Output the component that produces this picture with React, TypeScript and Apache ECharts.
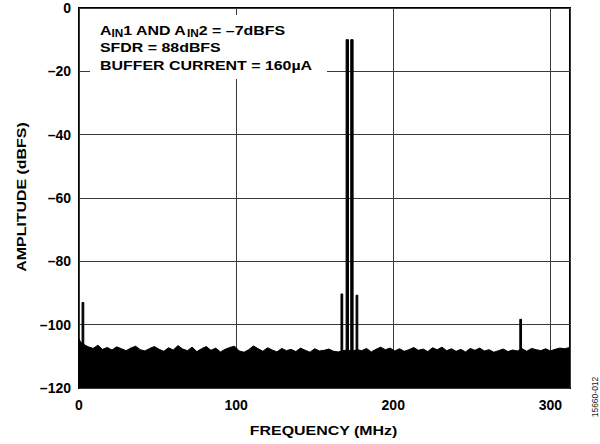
import React, { useEffect, useRef } from 'react';
import * as echarts from 'echarts';

const FONT = "'Liberation Sans', Arial, Helvetica, sans-serif";

// Axis ticks
const xTickValues = [0, 100, 200, 300];
const xTickLabels = ['0', '100', '200', '300'];
const yTickValues = [-120, -100, -80, -60, -40, -20, 0];
const yTickLabels = ['–120', '–100', '–80', '–60', '–40', '–20', '0'];

// Noise floor upper envelope (MHz, dBFS)
const noiseFreqs = [
  0, 1, 4, 6, 9, 12, 15, 18, 21, 24, 27, 30, 33, 36, 39, 42, 45, 48, 51, 54, 57, 60, 63, 66, 69, 72, 75, 78,
  81, 84, 87, 90, 93, 96, 99, 102, 105, 108, 111, 114, 117, 120, 123, 126, 129, 132, 135, 138, 141, 144, 147,
  150, 153, 156, 159, 162, 165, 168, 171, 174, 177, 180, 183, 186, 189, 192, 195, 198, 201, 204, 207, 210,
  213, 216, 219, 222, 225, 228, 231, 234, 237, 240, 243, 246, 249, 252, 255, 258, 261, 264, 267, 270, 273,
  276, 279, 282, 285, 288, 291, 294, 297, 300, 303, 306, 309, 312.5,
];
const noiseLevels = [
  -104.5, -105.5, -106.5, -107, -107.5, -106.5, -107.8, -107.2, -108, -107, -107.6, -108.2, -107.4, -106.8,
  -107.9, -108.3, -107.5, -106.9, -107.8, -108.4, -107.3, -108, -106.6, -107.7, -108.2, -107.1, -108.5,
  -107.6, -106.9, -108.1, -107.4, -108.6, -107.8, -107.2, -106.8, -108.3, -108.7, -107.9, -106.7, -107.6,
  -108.4, -107.3, -108, -108.6, -107.5, -108.2, -107.8, -108.5, -107.4, -108.1, -108.7, -107.6, -108.3,
  -108.1, -107.7, -108.4, -108.6, -108.2, -108, -108.3, -107.9, -108.2, -107.5, -108.6, -107.8, -107.1,
  -107.9, -107.4, -108.3, -107.6, -108.4, -107.9, -107.2, -108.1, -107.7, -108.5, -107.3, -107.9, -107.1,
  -108.2, -107.6, -108.4, -107.8, -108.6, -107.5, -108.1, -107.4, -108.3, -107.9, -108.7, -108.2, -107.7,
  -108.5, -108, -108.3, -107.6, -108.4, -107.5, -107.9, -108.2, -107.6, -108.3, -107.8, -107.4, -107.6,
  -107.2,
];

// Spurs and tones (MHz, dBFS peak)
const spikeFreqs = [2.5, 167.3, 170.75, 173.7, 176.9, 281.1];
const spikePeaks = [-93, -90.3, -10, -10, -90.7, -98.3];

// Annotation
const annotationLine1 = '{m|A}{s|IN}{m|1 AND A}{s|IN}{m|2 = –7dBFS}';
const annotationLine2 = 'SFDR = 88dBFS';
const annotationLine3 = 'BUFFER CURRENT = 160µA';
const xAxisTitle = 'FREQUENCY (MHz)';
const yAxisTitle = 'AMPLITUDE (dBFS)';
const figureId = '15660-012';

const SX = 1.18;

function buildOption() {
  const noiseData = noiseFreqs.map((f, i) => [f, noiseLevels[i]]);
  const spikeData: number[][] = [];
  const base = -113;
  spikeFreqs.forEach((f, i) => {
    const h = spikePeaks[i] > -50 ? 0.75 : 0.55;
    spikeData.push([f - h, base], [f - h, spikePeaks[i]], [f + h, spikePeaks[i]], [f + h, base]);
  });

  const textBase = { fontFamily: FONT, fontWeight: 'bold', fill: '#000' } as any;

  return {
    animation: false,
    backgroundColor: '#fff',
    grid: {
      left: 79,
      right: 30,
      top: 8,
      bottom: 56,
      show: true,
      borderColor: '#000',
      borderWidth: 2,
      backgroundColor: 'transparent',
    },
    xAxis: {
      type: 'value',
      min: 0,
      max: 312.5,
      interval: 100,
      axisLine: { show: false },
      axisTick: { show: false },
      splitLine: { show: true, lineStyle: { color: '#3a3a3a', width: 1 } },
      axisLabel: {
        margin: 10,
        fontFamily: FONT,
        fontWeight: 'bold',
        fontSize: 14,
        color: '#000',
        formatter: (v: number) => {
          const i = xTickValues.indexOf(Math.round(v * 1000) / 1000);
          return i >= 0 ? xTickLabels[i] : '';
        },
      },
    },
    yAxis: {
      type: 'value',
      min: -120,
      max: 0,
      interval: 20,
      axisLine: { show: false },
      axisTick: { show: false },
      splitLine: { show: true, lineStyle: { color: '#3a3a3a', width: 1 } },
      axisLabel: {
        margin: 8,
        fontFamily: FONT,
        fontWeight: 'bold',
        fontSize: 14,
        color: '#000',
        formatter: (v: number) => {
          const i = yTickValues.indexOf(Math.round(v));
          return i >= 0 ? yTickLabels[i] : '';
        },
      },
    },
    series: [
      {
        type: 'line',
        data: noiseData,
        symbol: 'none',
        silent: true,
        lineStyle: { color: '#000', width: 1 },
        areaStyle: { color: '#000', opacity: 1, origin: 'start' },
        z: 3,
      },
      {
        type: 'line',
        data: spikeData,
        symbol: 'none',
        silent: true,
        lineStyle: { color: '#000', width: 1 },
        areaStyle: { color: '#000', opacity: 1, origin: 'start' },
        z: 4,
      },
    ],
    graphic: [
      {
        type: 'rect',
        z: 5,
        shape: { x: 90, y: 15, width: 237, height: 64 },
        style: { fill: '#fff' },
        silent: true,
      },
      {
        type: 'text',
        z: 6,
        x: 100,
        y: 30,
        scaleX: SX,
        style: {
          text: annotationLine1,
          align: 'left',
          textAlign: 'left',
          verticalAlign: 'middle',
          textVerticalAlign: 'middle',
          rich: {
            m: { fontFamily: FONT, fontWeight: 'bold', fontSize: 13.5, lineHeight: 22, color: '#000' },
            s: { fontFamily: FONT, fontWeight: 'bold', fontSize: 10, color: '#000', padding: [7, 0, 0, 0] },
          },
        },
      },
      {
        type: 'text',
        z: 6,
        x: 100,
        y: 47.5,
        scaleX: SX,
        style: {
          ...textBase,
          text: annotationLine2,
          fontSize: 13.5,
          align: 'left',
          textAlign: 'left',
          verticalAlign: 'middle',
          textVerticalAlign: 'middle',
        },
      },
      {
        type: 'text',
        z: 6,
        x: 100,
        y: 65.5,
        scaleX: SX,
        style: {
          ...textBase,
          text: annotationLine3,
          fontSize: 13.5,
          align: 'left',
          textAlign: 'left',
          verticalAlign: 'middle',
          textVerticalAlign: 'middle',
        },
      },
      {
        type: 'text',
        z: 6,
        x: 323.5,
        y: 430,
        scaleX: SX,
        style: {
          ...textBase,
          text: xAxisTitle,
          fontSize: 13.5,
          align: 'center',
          textAlign: 'center',
          verticalAlign: 'middle',
          textVerticalAlign: 'middle',
        },
      },
      {
        type: 'text',
        z: 6,
        x: 21,
        y: 197,
        rotation: Math.PI / 2,
        scaleX: SX,
        style: {
          ...textBase,
          text: yAxisTitle,
          fontSize: 13.5,
          align: 'center',
          textAlign: 'center',
          verticalAlign: 'middle',
          textVerticalAlign: 'middle',
        },
      },
      {
        type: 'text',
        z: 6,
        x: 595,
        y: 397,
        rotation: Math.PI / 2,
        style: {
          text: figureId,
          fontFamily: FONT,
          fontSize: 8.5,
          fill: '#222',
          align: 'center',
          textAlign: 'center',
          verticalAlign: 'middle',
          textVerticalAlign: 'middle',
        },
      },
    ],
  };
}

export default function App() {
  const ref = useRef<HTMLDivElement>(null);
  useEffect(() => {
    if (!ref.current) return;
    const chart = echarts.init(ref.current, null, { renderer: 'svg' });
    chart.setOption(buildOption() as any);
    return () => {
      chart.dispose();
    };
  }, []);
  return (
    <div
      ref={ref}
      style={{ position: 'fixed', left: 0, top: 0, width: 600, height: 444, background: '#fff' }}
    />
  );
}
